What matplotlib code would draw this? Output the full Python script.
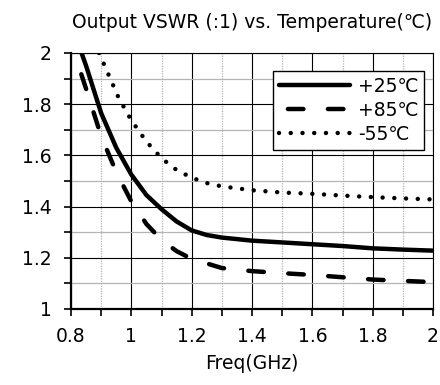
import matplotlib.pyplot as plt
from matplotlib.ticker import MultipleLocator

# Output VSWR readings per temperature
freq_25 = [0.835, 0.85, 0.9, 0.95, 1.0, 1.05, 1.1, 1.15, 1.2, 1.25, 1.3, 1.4, 1.5, 1.6, 1.7, 1.8, 1.9, 2.0]
vswr_25 = [2.0, 1.95, 1.765, 1.63, 1.525, 1.445, 1.39, 1.342, 1.307, 1.289, 1.279, 1.267, 1.26, 1.253, 1.246, 1.237, 1.232, 1.228]

freq_85 = [0.825, 0.85, 0.9, 0.95, 1.0, 1.05, 1.1, 1.15, 1.2, 1.3, 1.4, 1.5, 1.6, 1.7, 1.8, 1.9, 2.0]
vswr_85 = [1.95, 1.86, 1.675, 1.535, 1.42, 1.332, 1.27, 1.226, 1.196, 1.16, 1.148, 1.14, 1.133, 1.124, 1.115, 1.11, 1.105]

freq_m55 = [0.893, 0.926, 0.957, 1.0, 1.05, 1.1, 1.15, 1.2, 1.25, 1.3, 1.4, 1.5, 1.6, 1.7, 1.8, 1.9, 2.0]
vswr_m55 = [2.0, 1.911, 1.827, 1.737, 1.654, 1.589, 1.543, 1.513, 1.492, 1.479, 1.464, 1.455, 1.45, 1.443, 1.437, 1.432, 1.428]

labels = ['+25℃', '+85℃', '-55℃']

plt.rcParams['font.family'] = ['DejaVu Sans']
fs = 13.5

fig = plt.figure(figsize=(4.4, 3.85), dpi=100)
ax = fig.add_axes([71 / 440, 1 - 309 / 385, 362 / 440, 256 / 385])

lw = 3.2
ax.plot(freq_25, vswr_25, color='black', linewidth=lw, solid_capstyle='round', label=labels[0])
ax.plot(freq_85, vswr_85, color='black', linewidth=lw, linestyle=(7.0, (3.5, 5.5)),
        dash_capstyle='round', label=labels[1])
ax.plot(freq_m55, vswr_m55, color='black', linewidth=lw, linestyle=(0, (0.01, 2.63)),
        dash_capstyle='round', label=labels[2])

ax.set_xlim(0.8, 2.0)
ax.set_ylim(1.0, 2.0)
ax.xaxis.set_major_locator(MultipleLocator(0.2))
ax.xaxis.set_minor_locator(MultipleLocator(0.1))
ax.yaxis.set_major_locator(MultipleLocator(0.2))
ax.yaxis.set_minor_locator(MultipleLocator(0.1))
ax.xaxis.set_major_formatter(lambda v, p: '{:g}'.format(round(v, 1)))
ax.yaxis.set_major_formatter(lambda v, p: '{:g}'.format(round(v, 1)))

ax.set_axisbelow(True)
ax.grid(which='major', axis='both', color='black', linewidth=0.8)
ax.grid(which='minor', axis='y', color='#b4b4b4', linewidth=0.9)
ax.grid(which='minor', axis='x', color='#b4b4b4', linewidth=0.9, linestyle=(0, (1, 1)))

for side in ['left', 'bottom']:
    ax.spines[side].set_linewidth(1.6)
for side in ['top', 'right']:
    ax.spines[side].set_linewidth(0.8)

ax.tick_params(which='both', direction='out', length=5, width=1.2, labelsize=fs)
ax.tick_params(axis='y', pad=9)
ax.tick_params(axis='x', pad=8)

ax.set_title('Output VSWR (:1) vs. Temperature(℃)', fontsize=fs, pad=18)
ax.set_xlabel('Freq(GHz)', fontsize=fs, labelpad=6)

leg = ax.legend(loc='upper right', bbox_to_anchor=(0.975, 0.93), borderaxespad=0,
                handlelength=3.8, fancybox=False, framealpha=1, edgecolor='black',
                fontsize=fs, labelspacing=0.28, handletextpad=0.4, borderpad=0.3)
leg.get_frame().set_linewidth(1.0)

plt.savefig('out.png', dpi=100)
